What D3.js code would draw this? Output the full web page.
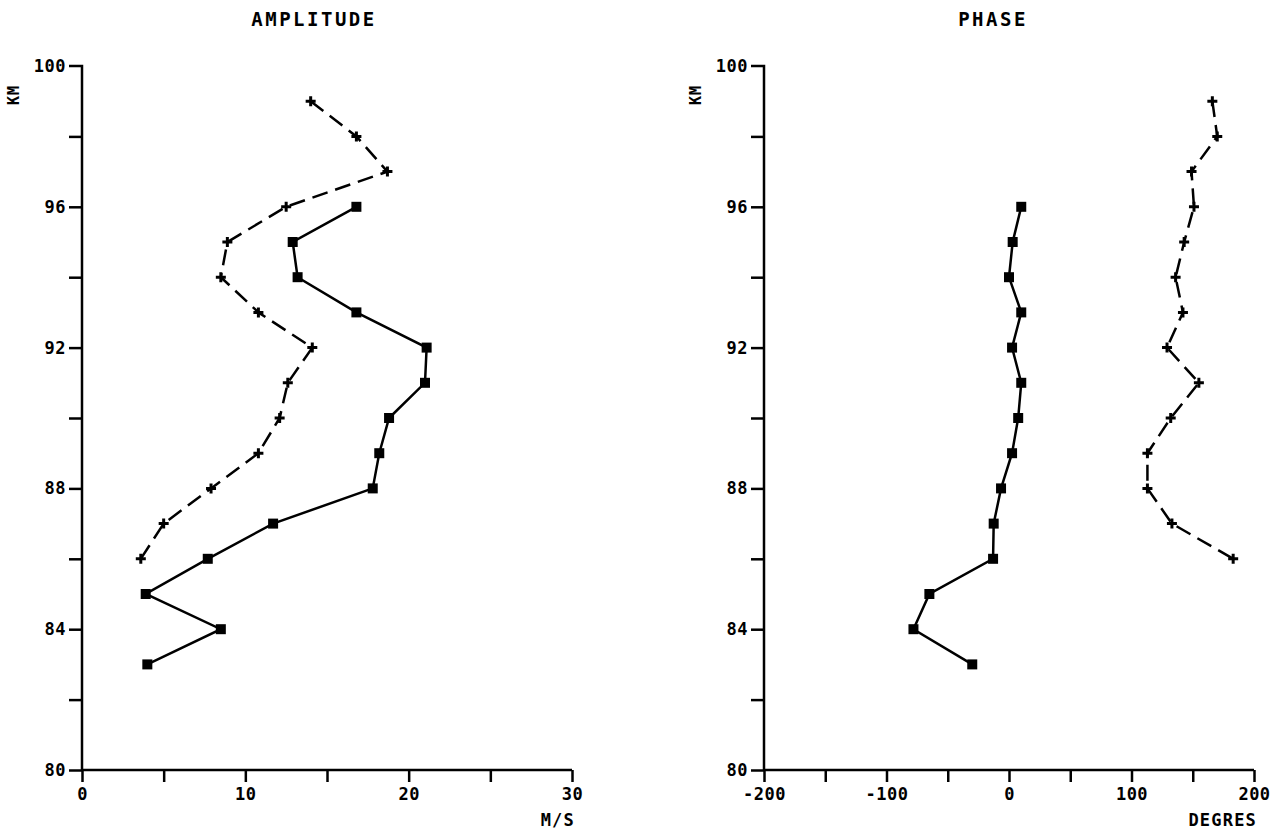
<!DOCTYPE html>
<html lang="en">
<head>
  <meta charset="UTF-8">
  <title>Amplitude and phase</title>
  <style>
    body { margin: 0; background: #fff; }
    svg text {
      font-family: "DejaVu Sans Mono", monospace;
      font-weight: bold;
      fill: #000;
    }
    .axis path, .axis line {
      fill: none;
      stroke: #000;
      stroke-width: 2.5;
    }
    .axis text { font-size: 17px; letter-spacing: 0.5px; }
    .title { font-size: 19px; letter-spacing: 2.5px; }
    .unit { font-size: 17px; letter-spacing: 1.2px; }
    .km { font-size: 15px; letter-spacing: 1px; }
    .line { fill: none; stroke: #000; stroke-width: 2.5; }
    .dashed { stroke-dasharray: 16 8; }
  </style>
</head>
<body>
  <svg class="chart" width="1287" height="832"></svg>
  <script src="https://cdn.jsdelivr.net/npm/d3@7"></script>
  <script>
    // altitudes (km)
    var kmSolid = [96, 95, 94, 93, 92, 91, 90, 89, 88, 87, 86, 85, 84, 83];
    var kmDashed = [99, 98, 97, 96, 95, 94, 93, 92, 91, 90, 89, 88, 87, 86];

    // amplitude, m/s
    var ampSolid = [16.8, 12.9, 13.2, 16.8, 21.1, 21.0, 18.8, 18.2, 17.8, 11.7, 7.7, 3.9, 8.5, 4.0];
    var ampDashed = [14.0, 16.8, 18.7, 12.5, 8.9, 8.5, 10.8, 14.1, 12.6, 12.1, 10.8, 7.9, 5.0, 3.6];

    // phase, degrees
    var phaseSolid = [10, 3, 0, 10, 2.5, 10, 7.5, 2.5, -6.5, -12.5, -13, -65, -78, -30];
    var phaseDashed = [166, 170, 149, 151, 143, 136, 142, 129, 155, 132, 113, 113, 133, 183];

    var kmTicks = [80, 82, 84, 86, 88, 90, 92, 94, 96, 98, 100];
    var kmLabels = [80, 84, 88, 92, 96, 100];
    var ampTicks = [0, 5, 10, 15, 20, 25, 30];
    var ampLabels = [0, 10, 20, 30];
    var phaseTicks = [-200, -150, -100, -50, 0, 50, 100, 150, 200];
    var phaseLabels = [-200, -100, 0, 100, 200];

    var svg = d3.select(".chart");

    var y = d3.scaleLinear().domain([80, 100]).range([770, 66]);

    function panel(opts) {
      var x = d3.scaleLinear().domain(opts.domain).range(opts.range);
      var g = svg.append("g");

      g.append("g")
        .attr("class", "axis")
        .attr("transform", "translate(" + opts.range[0] + ",0)")
        .call(d3.axisLeft(y).tickValues(kmTicks).tickSize(13).tickPadding(3)
          .tickFormat(function(d) { return kmLabels.indexOf(d) >= 0 ? d : ""; }))
        .call(function(a) { a.select(".domain").attr("d", "M0,770V66H-13"); a.selectAll(".tick").filter(function(d) { return d === 100; }).select("line").remove(); });

      g.append("g")
        .attr("class", "axis")
        .attr("transform", "translate(0,770)")
        .call(d3.axisBottom(x).tickValues(opts.ticks).tickSize(12).tickPadding(6)
          .tickFormat(function(d) { return opts.labels.indexOf(d) >= 0 ? d : ""; }))
        .call(function(a) { a.select(".domain").attr("d", "M" + opts.range[0] + ",0H" + opts.range[1]); });

      g.append("text")
        .attr("class", "title")
        .attr("x", opts.titleX).attr("y", 26)
        .attr("text-anchor", "middle")
        .text(opts.title);

      g.append("text")
        .attr("class", "km")
        .attr("transform", "translate(" + (opts.range[0] - 63) + ",95) rotate(-90)")
        .attr("text-anchor", "middle")
        .text("KM");

      g.append("text")
        .attr("class", "unit")
        .attr("x", opts.range[1] + 3).attr("y", 826)
        .attr("text-anchor", "end")
        .text(opts.unit);

      var line = d3.line()
        .x(function(d) { return x(d[0]); })
        .y(function(d) { return y(d[1]); });

      var solid = d3.zip(opts.solid, kmSolid);
      var dashed = d3.zip(opts.dashed, kmDashed);

      g.append("path").attr("class", "line").attr("d", line(solid));
      g.append("path").attr("class", "line dashed").attr("d", line(dashed));

      g.selectAll(".sq").data(solid).enter().append("rect")
        .attr("x", function(d) { return x(d[0]) - 5; })
        .attr("y", function(d) { return y(d[1]) - 5; })
        .attr("width", 10).attr("height", 10)
        .attr("fill", "#000");

      g.selectAll(".pl").data(dashed).enter().append("path")
        .attr("d", function(d) {
          var px = x(d[0]), py = y(d[1]);
          return "M" + (px - 5) + "," + py + "H" + (px + 5) + "M" + px + "," + (py - 5) + "V" + (py + 5);
        })
        .attr("stroke", "#000").attr("stroke-width", 3);
    }

    panel({
      domain: [0, 30], range: [82, 572],
      ticks: ampTicks, labels: ampLabels,
      solid: ampSolid, dashed: ampDashed,
      title: "AMPLITUDE", titleX: 314, unit: "M/S"
    });

    panel({
      domain: [-200, 200], range: [764, 1254],
      ticks: phaseTicks, labels: phaseLabels,
      solid: phaseSolid, dashed: phaseDashed,
      title: "PHASE", titleX: 993, unit: "DEGRES"
    });
  </script>
</body>
</html>
